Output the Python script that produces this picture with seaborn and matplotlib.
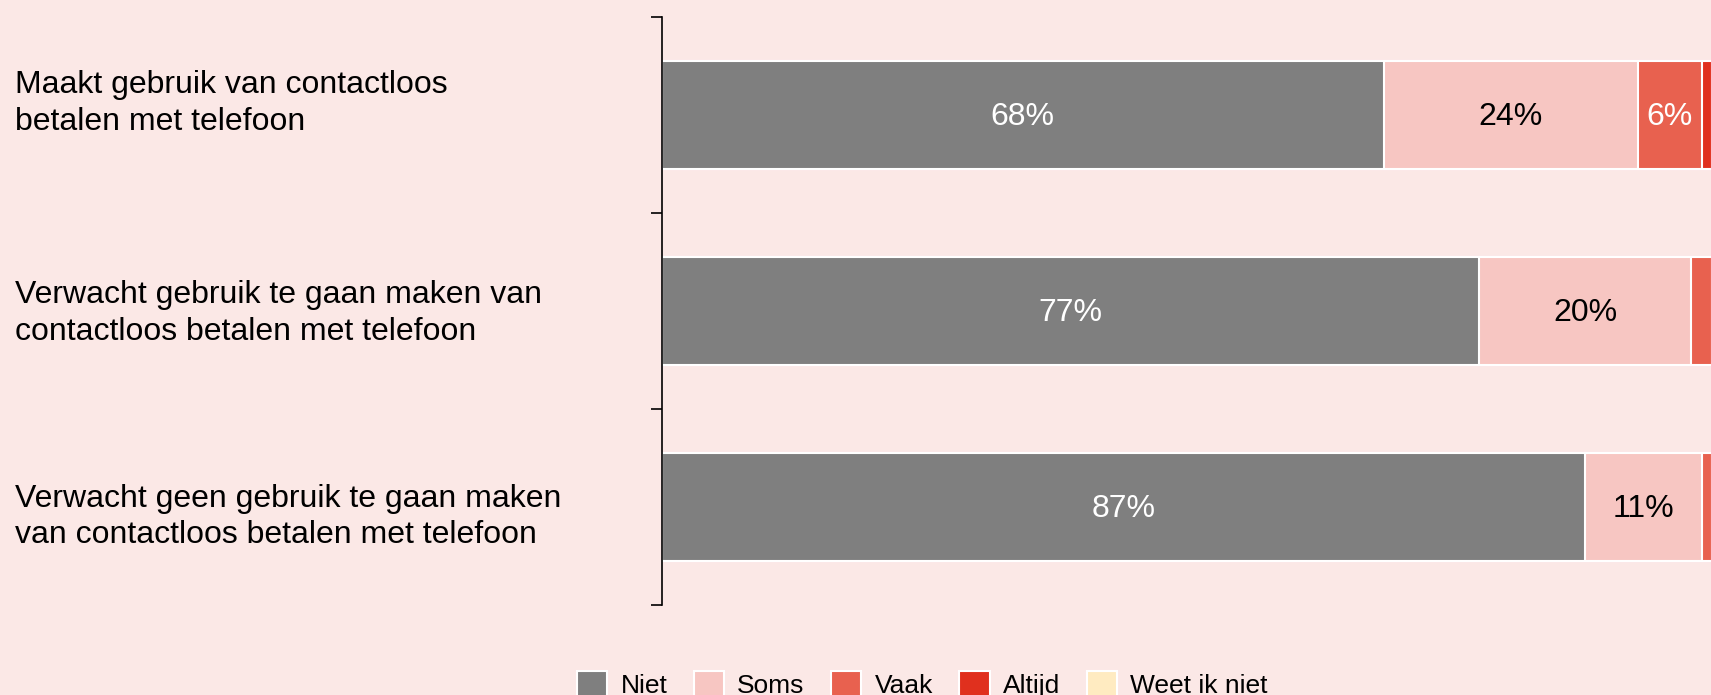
import pandas as pd
import numpy as np
import matplotlib
matplotlib.use('Agg')
import matplotlib.pyplot as plt
import matplotlib.transforms as mtransforms
from matplotlib.patches import Patch
import seaborn as sns

# Data
statements = [
    'Maakt gebruik van contactloos\nbetalen met telefoon',
    'Verwacht gebruik te gaan maken van\ncontactloos betalen met telefoon',
    'Verwacht geen gebruik te gaan maken\nvan contactloos betalen met telefoon',
]
answers = ['Niet', 'Soms', 'Vaak', 'Altijd', 'Weet ik niet']
niet = [68, 77, 87]
soms = [24, 20, 11]
vaak = [6, 2, 1]
altijd = [1, 1, 1]
weet_niet = [1, 0, 0]

colors = ['#7f7f7f', '#f7c6c2', '#e8614f', '#e0301e', '#ffebc1']
label_colors = ['white', 'black', 'white', 'white', 'black']
bg = '#fbe8e6'

df = pd.DataFrame({'statement': statements, 'Niet': niet, 'Soms': soms,
                   'Vaak': vaak, 'Altijd': altijd, 'Weet ik niet': weet_niet})
cum = df[answers].cumsum(axis=1)

sns.set_style('white')
plt.rcParams['font.family'] = ['Liberation Sans', 'DejaVu Sans']
plt.rcParams['text.color'] = 'black'

fig = plt.figure(figsize=(17.11, 6.95), dpi=100)
fig.patch.set_facecolor(bg)
ax = fig.add_axes([0.387, 0.129, 0.620, 0.847])
ax.set_facecolor(bg)

# stacked bars: draw cumulative totals from the back to the front
for ans, col in reversed(list(zip(answers, colors))):
    sns.barplot(x=cum[ans], y=df['statement'], color=col, orient='h',
                width=0.55, edgecolor='white', linewidth=1.5,
                saturation=1, ax=ax)

# segment labels
for i in range(len(df)):
    for ans, tc in zip(answers, label_colors):
        val = df.loc[i, ans]
        if val >= 5:
            mid = cum.loc[i, ans] - val / 2
            ax.text(mid, i + 0.01, f'{val}%', ha='center', va='center',
                    fontsize=23, color=tc)

ax.set_xlim(0, 100)
ax.set_ylim(2.5, -0.5)
ax.set_xlabel('')
ax.set_ylabel('')
ax.set_xticks([])
for s in ['top', 'right', 'bottom']:
    ax.spines[s].set_visible(False)
ax.spines['left'].set_color('black')
ax.spines['left'].set_linewidth(1.2)

ax.set_yticks([-0.5, 0.5, 1.5, 2.5], minor=True)
ax.set_yticks([0, 1, 2])
ax.set_yticklabels([])
ax.tick_params(axis='y', which='minor', length=8, width=1.2, color='black', left=True)
ax.tick_params(axis='y', which='major', length=0)

# category labels, left aligned at the figure edge
label_offsets = [-0.058, 0.011, 0.05]
trans = mtransforms.blended_transform_factory(fig.transFigure, ax.transData)
for i, (txt, off) in enumerate(zip(statements, label_offsets)):
    ax.text(0.0088, i + off, txt, transform=trans, ha='left', va='center',
            fontsize=23, linespacing=1.3, color='black')

handles = [Patch(facecolor=c, edgecolor='white', linewidth=1.5) for c in colors]
fig.legend(handles, answers, loc='center', bbox_to_anchor=(0.539, 0.015),
           ncol=5, frameon=False, fontsize=19, handlelength=1.15,
           handleheight=1.15, handletextpad=0.5, columnspacing=1.0)

plt.savefig('out.png', dpi=100, facecolor=bg)
